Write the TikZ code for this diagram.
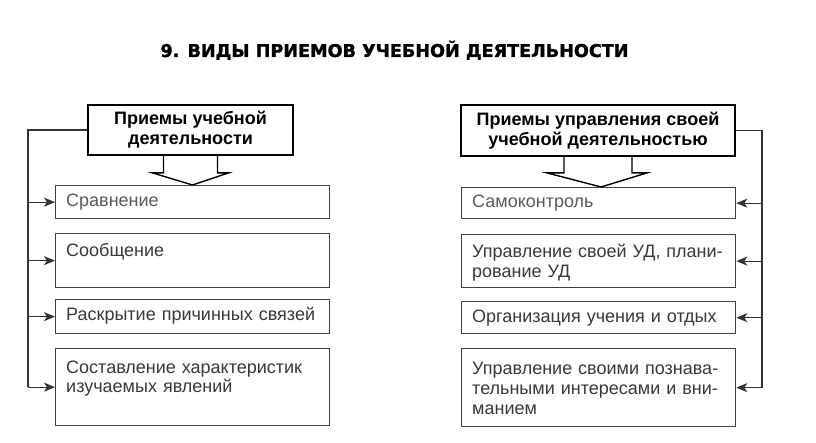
\documentclass[tikz,border=0pt]{standalone}
\usepackage{fontspec}
\setmainfont{Liberation Sans}
\newfontfamily\titlefont[FakeBold=1.6]{DejaVu Sans Bold}
\usetikzlibrary{arrows.meta,calc}
\begin{document}
\begin{tikzpicture}[x=1pt,y=-1pt,
  hdr/.style={draw=black, line width=1.8pt, inner sep=0pt, align=center, font=\fontsize{18}{20}\selectfont\bfseries},
  itembox/.style={draw=black!75, line width=1.3pt, anchor=north west, inner sep=0pt, minimum width=274pt},
  itemtext/.style={anchor=base west, inner sep=0pt, text width=270pt, align=left, text=black!78, font=\fontsize{18}{20}\selectfont},
  bus/.style={draw=black!80, line width=1.1pt},
  arr/.style={bus, -{Stealth[length=11pt,width=9pt,inset=3pt]}},
  blockarr/.style={draw=black, line width=1.4pt, line join=miter}
]
\useasboundingbox (0,0) rectangle (816,443);
\node[font=\titlefont\fontsize{17.6}{20}\selectfont, anchor=base, inner sep=0pt] (title) at (394.5,57) {9. ВИДЫ ПРИЕМОВ УЧЕБНОЙ ДЕЯТЕЛЬНОСТИ};

\node[hdr, minimum width=205pt, minimum height=50pt] (LH) at (190.5,130) {Приемы учебной\\деятельности};
\node[hdr, minimum width=274pt, minimum height=51pt] (RH) at (598,130.5) {Приемы управления своей\\учебной деятельностью};

\node[itembox, minimum height=33pt] (L1) at (55,185) {};
\node[itembox, minimum height=54pt] (L2) at (55,233) {};
\node[itembox, minimum height=34pt] (L3) at (55,299) {};
\node[itembox, minimum height=77pt] (L4) at (55,348) {};

\node[itembox, minimum height=31pt] (R1) at (461,187) {};
\node[itembox, minimum height=53pt] (R2) at (461,234) {};
\node[itembox, minimum height=32pt] (R3) at (461,301) {};
\node[itembox, minimum height=78pt] (R4) at (461,348) {};

\node[itemtext, text=black!65] (L1t) at ($(L1.north west)+(11,22)$) {Сравнение};
\node[itemtext] (L2t) at ($(L2.north west)+(11,24)$) {Сообщение};
\node[itemtext] (L3t) at ($(L3.north west)+(11,22)$) {Раскрытие причинных связей};
\node[itemtext] (L4t) at ($(L4.north west)+(11,25)$) {Составление характеристик\\изучаемых явлений};

\node[itemtext, text=black!65] (R1t) at ($(R1.north west)+(11,21)$) {Самоконтроль};
\node[itemtext] (R2t) at ($(R2.north west)+(11,24)$) {Управление своей УД, плани-\\рование УД};
\node[itemtext] (R3t) at ($(R3.north west)+(11,22)$) {Организация учения и отдых};
\node[itemtext] (R4t) at ($(R4.north west)+(11,26)$) {Управление своими познава-\\тельными интересами и вни-\\манием};

\draw[blockarr] ($(LH.south)+(-27,0)$) -- ++(0,17) -- ++(-11,0) -- ($(LH.south |- L1.north)+(2,0)$) -- ($(LH.south)+(38,17)$) -- ++(-11,0) -- ++(0,-17);
\draw[blockarr] ($(RH.south)+(-34,0)$) -- ++(0,16) -- ++(-17,0) -- ($(RH.south |- R1.north)+(3,0)$) -- ($(RH.south)+(49,16)$) -- ++(-15,0) -- ++(0,-16);

\coordinate (lb) at (28,0);
\coordinate (rb) at (762,0);
\draw[bus] (LH.west) -- (LH.west -| lb) -- (L4.west -| lb);
\draw[bus] (RH.east) -- (RH.east -| rb) -- (R4.east -| rb);
\foreach \n in {1,...,4} {
  \draw[arr] (L\n.west -| lb) -- (L\n.west);
  \draw[arr] (R\n.east -| rb) -- (R\n.east);
}
\end{tikzpicture}
\end{document}
